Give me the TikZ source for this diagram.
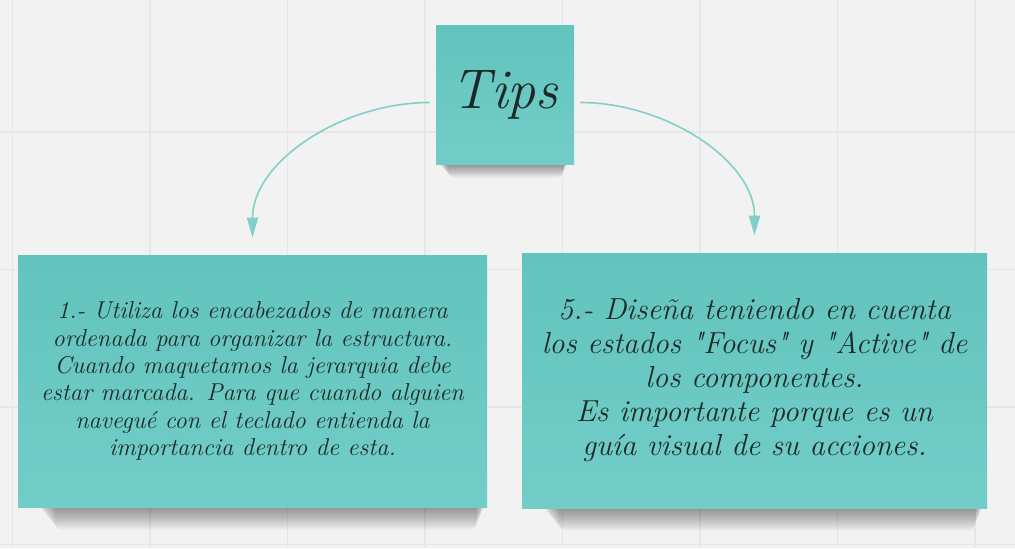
\documentclass[tikz,border=0pt]{standalone}
\usetikzlibrary{arrows.meta,backgrounds}

\definecolor{board}{HTML}{F2F2F2}
\definecolor{gridline}{HTML}{E6E6E6}
\definecolor{sticky}{HTML}{62C4BD}
\definecolor{stickylight}{HTML}{72CDC7}
\definecolor{linkcol}{HTML}{80D0CA}
\definecolor{ink}{HTML}{1C2928}

\tikzset{
  note/.style={rectangle, inner sep=0pt, top color=sticky, bottom color=stickylight,
    text=ink, font=\itshape, align=center},
  lift/.style={fill=black, opacity=0.04},
  link/.style={draw=linkcol, line width=0.8pt, -{Triangle[length=10pt,width=5.5pt]}}
}

\begin{document}
\begin{tikzpicture}[x=0.5pt,y=-0.5pt]
  \useasboundingbox (0,0) rectangle (1015,548);

  % sticky notes
  \node[note, minimum width=69pt, minimum height=69.5pt,
    font=\itshape\fontsize{28}{30}\selectfont] (tips) at (505,94.5) {Tips};
  \node[note, minimum width=234.5pt, minimum height=126pt,
    font=\itshape\fontsize{12.2}{13.7}\selectfont] (first) at (252.5,381)
    {1.- Utiliza los encabezados de manera\\
     ordenada para organizar la estructura.\\
     Cuando maquetamos la jerarquia debe\\
     estar marcada. Para que cuando alguien\\
     navegué con el teclado entienda la\\
     importancia dentro de esta.};
  \node[note, minimum width=232.5pt, minimum height=127.5pt,
    font=\itshape\fontsize{15.2}{17}\selectfont] (fifth) at (754.5,380.5)
    {5.- Diseña teniendo en cuenta\\
     los estados \textquotedbl Focus\textquotedbl\ y
     \textquotedbl Active\textquotedbl\ de\\
     los componentes.\\
     Es importante porque es un\\
     guía visual de su acciones.};

  % connectors
  \draw[link, shorten <=3pt, shorten >=8.5pt] ([yshift=-4pt]tips.west)
    to[out=180, in=90] (first.north);
  \draw[link, shorten <=3pt, shorten >=8.5pt] ([yshift=-4pt]tips.east)
    to[out=0, in=90] (fifth.north);

  \begin{scope}[on background layer]
    \fill[board] (0,0) rectangle (1015,548);
    % board grid
    \foreach \x in {12.5,150,...,1000}
      \draw[gridline, line width=0.8pt] (\x,0) -- (\x,548);
    \foreach \y in {132,269.5,...,548}
      \draw[gridline, line width=0.8pt] (0,\y) -- (1015,\y);
    % soft shadows under the notes
    \foreach \n/\d/\l/\r in {tips/0.6/1/3, first/1/10/1, fifth/1/10/2}
      \foreach \k in {1,...,11}
        \fill[lift, rounded corners=3pt] ([xshift=\l pt+\k*\d*0.8pt, yshift=10pt]\n.south west)
          rectangle ([xshift=-\r pt-\k*\d*0.4pt, yshift=-\k*\d pt]\n.south east);
  \end{scope}
\end{tikzpicture}
\end{document}
